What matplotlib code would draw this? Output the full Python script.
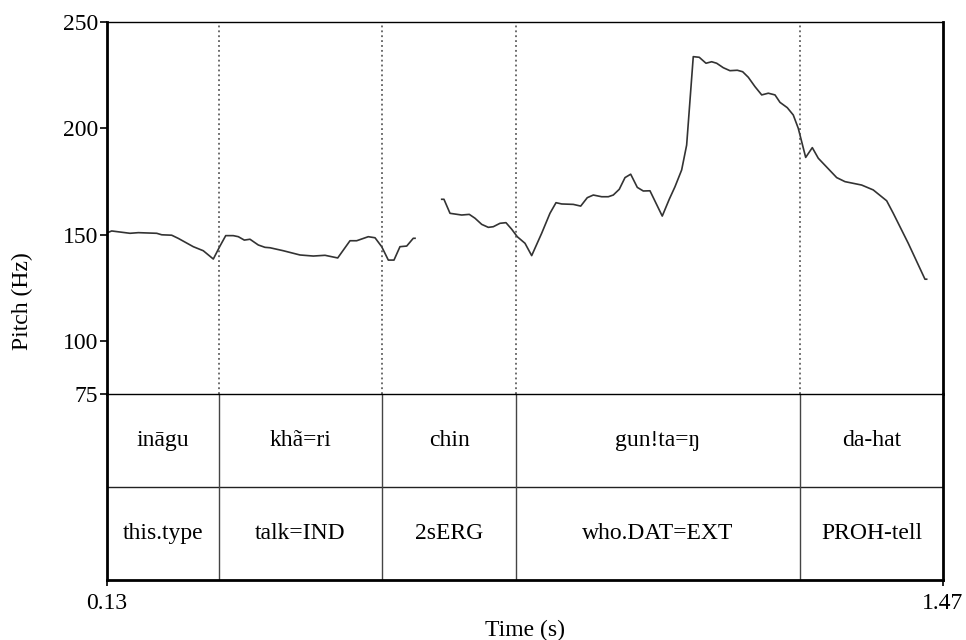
import matplotlib
matplotlib.use("Agg")
import matplotlib.pyplot as plt
import numpy as np

plt.rcParams['font.family'] = ['Liberation Serif', 'DejaVu Serif']

# ---- data ----
t_start, t_end = 0.13, 1.47
yticks_hz = [75, 100, 150, 200, 250]

seg1_t = [0.130, 0.1375, 0.1481, 0.1669, 0.1802, 0.2097, 0.2177, 0.2337, 0.2443, 0.2683,
          0.2843, 0.3004, 0.3111, 0.3203, 0.3324, 0.3405, 0.3501, 0.3592, 0.3725, 0.3832,
          0.3913, 0.4126, 0.4393, 0.4607, 0.4794, 0.4998, 0.5195, 0.5302, 0.5488, 0.5596,
          0.5703, 0.5809, 0.5900, 0.5996, 0.6104, 0.6209, 0.6237]
seg1_f = [150.8, 151.7, 151.3, 150.6, 150.9, 150.6, 149.9, 149.7, 148.2, 144.3,
          142.4, 138.5, 144.6, 149.5, 149.5, 149.0, 147.4, 147.8, 145.1, 144.0,
          143.8, 142.4, 140.4, 139.9, 140.25, 139.0, 147.1, 147.1, 149.0, 148.5,
          144.3, 138.0, 138.0, 144.3, 144.6, 148.25, 148.25]

seg2_t = [0.6665, 0.6701, 0.6798, 0.6985, 0.7107, 0.7198, 0.7306, 0.7412, 0.7492, 0.7599,
          0.7695, 0.7787, 0.7876, 0.8000, 0.8107, 0.8267, 0.8400, 0.8497, 0.8588, 0.8774,
          0.8893, 0.8998, 0.9095, 0.9229, 0.9335, 0.9415, 0.9511, 0.9603, 0.9694, 0.9800,
          0.9896, 1.0003, 1.0200, 1.0312, 1.0404, 1.0511, 1.0591, 1.0697, 1.0793, 1.0901,
          1.0992, 1.1072, 1.1178, 1.1285, 1.1403, 1.1489, 1.1579, 1.1686, 1.1794, 1.1900,
          1.2007, 1.2087, 1.2204, 1.2300, 1.2380, 1.2499, 1.2605, 1.2701, 1.2996, 1.3129,
          1.3396, 1.3582, 1.3797, 1.3903, 1.4143, 1.4411, 1.4438]
seg2_f = [166.6, 166.6, 160.0, 159.2, 159.5, 157.7, 154.8, 153.4, 153.7, 155.3,
          155.6, 152.5, 149.0, 145.9, 140.1, 150.6, 160.0, 165.0, 164.4, 164.2,
          163.4, 167.35, 168.6, 167.8, 167.8, 168.6, 171.3, 176.8, 178.4, 172.2,
          170.5, 170.6, 158.7, 166.6, 172.5, 180.4, 192.1, 233.7, 233.4, 230.6,
          231.3, 230.6, 228.5, 227.1, 227.3, 226.6, 224.0, 219.6, 215.7, 216.5,
          215.7, 212.2, 209.7, 206.25, 200.0, 186.3, 190.9, 185.9, 176.8, 174.9,
          173.3, 171.0, 165.9, 160.0, 145.9, 129.0, 129.0]

boundaries = [0.3095, 0.5708, 0.7856, 1.2407]
tier1_labels = ["ināgu", "khã=ri", "chin", "gun!ta=ŋ", "da-hat"]
tier2_labels = ["this.type", "talk=IND", "2sERG", "who.DAT=EXT", "PROH-tell"]

# ---- figure ----
W, H = 966, 640
fig = plt.figure(figsize=(W / 100, H / 100), dpi=100)
left, right = 107 / W, 943 / W
ax = fig.add_axes([left, 1 - 394 / H, right - left, 372 / H])
axt = fig.add_axes([left, 1 - 580 / H, right - left, 186 / H])

fs = 17
lc = '#333333'

# pitch panel
ax.plot(seg1_t, seg1_f, color=lc, lw=1.2)
ax.plot(seg2_t, seg2_f, color=lc, lw=1.2)
for b in boundaries:
    ax.axvline(b, color='#444444', lw=1.1, ls=(0, (1.2, 2.0)))
ax.set_xlim(t_start, t_end)
ax.set_ylim(75, 250)
ax.set_yticks(yticks_hz)
ax.set_yticklabels([str(v) for v in yticks_hz], fontsize=fs)
ax.tick_params(axis='y', direction='out', length=5, width=1.2, pad=1.5, color='black')
ax.set_xticks([])
ax.spines['bottom'].set_visible(False)
ax.spines['top'].set_linewidth(1.0)
ax.spines['left'].set_linewidth(2.0)
ax.spines['right'].set_linewidth(2.0)

# tier panel
axt.set_xlim(t_start, t_end)
axt.set_ylim(0, 2)
axt.axhline(1, color='#222222', lw=1.0)
edges = [t_start] + boundaries + [t_end]
for b in boundaries:
    axt.axvline(b, color='#444444', lw=1.0)
for i in range(len(tier1_labels)):
    xc = (edges[i] + edges[i + 1]) / 2
    axt.text(xc, 1.5, tier1_labels[i], ha='center', va='center', fontsize=fs)
    axt.text(xc, 0.5, tier2_labels[i], ha='center', va='center', fontsize=fs)
axt.set_yticks([])
axt.set_xticks([t_start, t_end])
axt.set_xticklabels(["0.13", "1.47"], fontsize=fs)
axt.tick_params(axis='x', direction='out', length=4.5, width=1.2, pad=5)
axt.spines['top'].set_linewidth(1.0)
axt.spines['left'].set_linewidth(2.0)
axt.spines['right'].set_linewidth(2.0)
axt.spines['bottom'].set_linewidth(2.0)

fig.text((107 + 943) / 2 / W, 1 - 630 / H, "Time (s)", ha='center', va='center', fontsize=fs)
fig.text(22 / W, 1 - 301 / H, "Pitch (Hz)", ha='center', va='center', rotation=90, fontsize=fs)

fig.savefig("out.png", dpi=100)
